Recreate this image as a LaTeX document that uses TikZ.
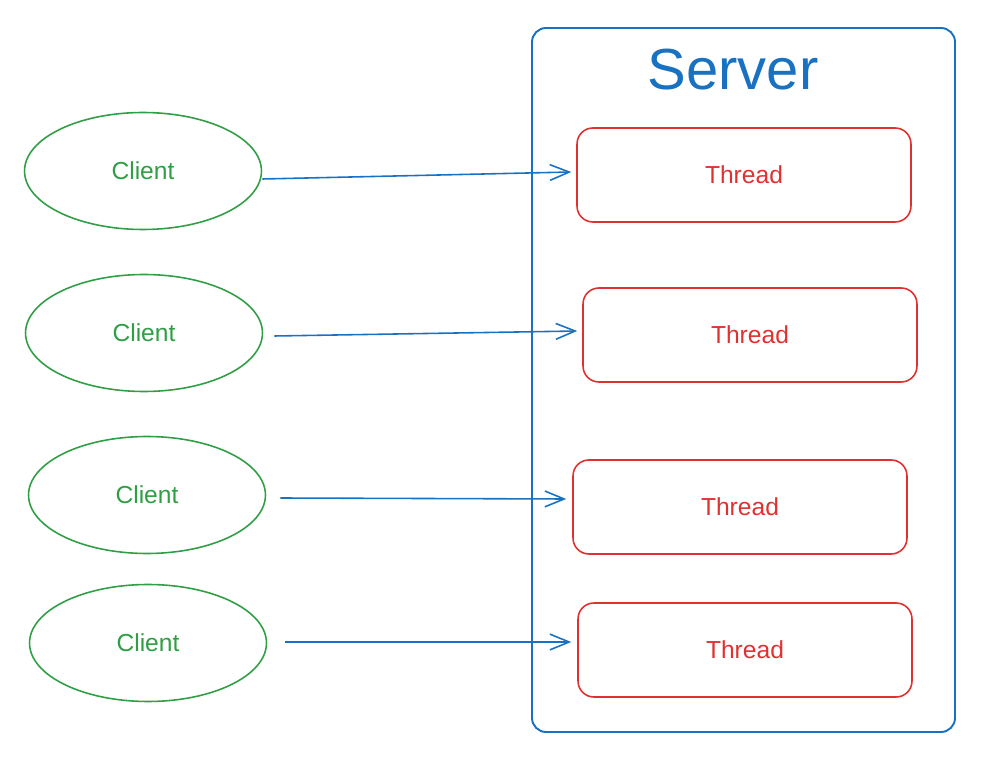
\documentclass[tikz,border=0pt]{standalone}
\usepackage{fontspec}
\setmainfont{Liberation Sans}
\usepackage{tikz}
\usetikzlibrary{arrows.meta, shapes.geometric, calc}
\definecolor{srvcol}{RGB}{25,113,194}
\definecolor{clicol}{RGB}{47,158,68}
\definecolor{thrcol}{RGB}{224,49,49}

\begin{document}
\begin{tikzpicture}[
  x=0.02cm, y=-0.02cm,
  font=\fontsize{14}{16}\selectfont,
  client/.style={ellipse, draw=clicol, line width=0.9pt, text=clicol,
                 minimum width=4.74cm, minimum height=2.34cm},
  thread/.style={draw=thrcol, line width=0.9pt, text=thrcol, rounded corners=9pt,
                 minimum width=6.68cm, minimum height=1.88cm},
  server/.style={draw=srvcol, line width=1.1pt, rounded corners=8pt},
  link/.style={-{Straight Barb[length=11pt, width=9pt]}, draw=srvcol, line width=0.9pt}
]
  \useasboundingbox (0,0) rectangle (988,760);

  % server frame
  \draw[server] (532,28) rectangle (955,732);
  \node[text=srvcol, font=\fontsize{33}{36}\selectfont] (title) at (733,70) {Server};

  % threads
  \node[thread] (t1) at (744,175) {Thread};
  \node[thread] (t2) at (750,335) {Thread};
  \node[thread] (t3) at (740,507) {Thread};
  \node[thread] (t4) at (745,650) {Thread};

  % clients
  \node[client] (c1) at (143,171) {Client};
  \node[client] (c2) at (144,333) {Client};
  \node[client] (c3) at (147,495) {Client};
  \node[client] (c4) at (148,643) {Client};

  % requests
  \draw[link] ($(c1.east)+(0,8)$) -- ($(t1.west)+(-5,-3)$);
  \draw[link] ($(c2.east)+(11,3)$) -- ($(t2.west)+(-5,-4)$);
  \draw[link] ($(c3.east)+(14,3)$) -- ($(t3.west)+(-6,-8)$);
  \draw[link] ($(c4.east)+(18,-1)$) -- ($(t4.west)+(-6,-8)$);
\end{tikzpicture}
\end{document}
